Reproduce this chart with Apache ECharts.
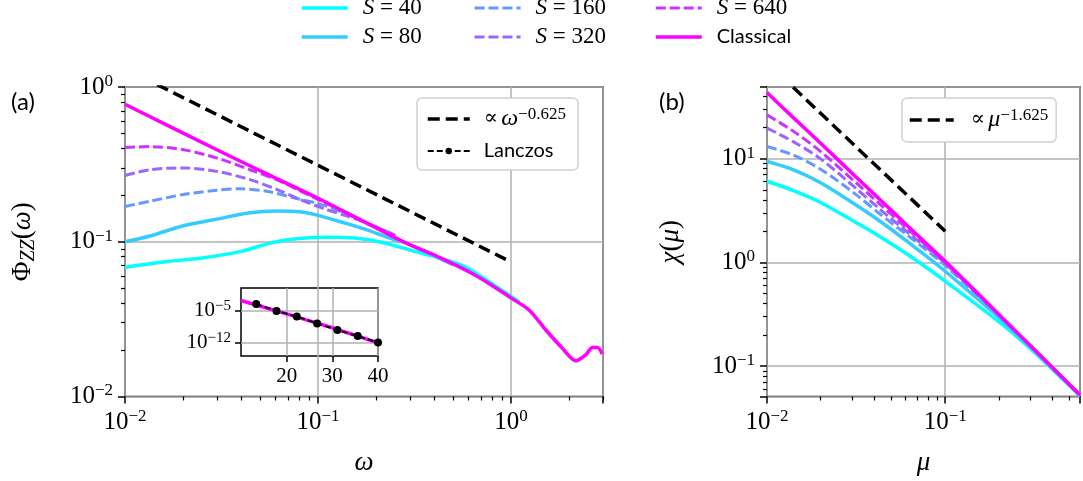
<!DOCTYPE html>
<html>
<head>
<meta charset="utf-8">
<script src="https://cdn.jsdelivr.net/npm/echarts@6/dist/echarts.min.js"></script>
<style>
  html, body { margin: 0; background: #fff; }
  #chart { width: 1083px; height: 481px; }
</style>
</head>
<body>
<div id="chart"></div>
<script>
// ---- panel (a): spectral function vs omega ----
const omega40 = [0.01, 0.0165, 0.0245, 0.0394, 0.0586, 0.0805, 0.110, 0.151, 0.198, 0.249, 0.313, 0.393, 0.562, 0.773, 1.104];
const phi40 = [0.0685, 0.0745, 0.0782, 0.0863, 0.0991, 0.105, 0.107, 0.106, 0.101, 0.0944, 0.0869, 0.0807, 0.0701, 0.055, 0.0408];
const omega80 = [0.01, 0.0135, 0.0201, 0.0299, 0.0445, 0.0611, 0.0805, 0.1, 0.138, 0.181, 0.249, 0.285, 0.398, 0.501];
const phi80 = [0.1, 0.109, 0.127, 0.14, 0.154, 0.158, 0.156, 0.148, 0.132, 0.119, 0.103, 0.0984, 0.0813, 0.0711];
const omega160 = [0.01, 0.0135, 0.0201, 0.0299, 0.0394, 0.0542, 0.0805, 0.1, 0.138, 0.173, 0.249];
const phi160 = [0.169, 0.183, 0.202, 0.215, 0.22, 0.212, 0.188, 0.177, 0.153, 0.135, 0.111];
const omega320 = [0.01, 0.0135, 0.0201, 0.0299, 0.0445, 0.0611, 0.0805, 0.110, 0.138, 0.173, 0.251];
const phi320 = [0.268, 0.292, 0.3, 0.285, 0.252, 0.218, 0.188, 0.162, 0.148, 0.134, 0.109];
const omega640 = [0.01, 0.0135, 0.0201, 0.0299, 0.0445, 0.0611, 0.0805, 0.1, 0.173, 0.251];
const phi640 = [0.406, 0.412, 0.393, 0.348, 0.292, 0.252, 0.214, 0.188, 0.135, 0.110];
const omegaCl = [0.01, 0.0316, 0.0631, 0.1, 0.173, 0.285, 0.431, 0.619, 0.773, 1.0, 1.245, 1.517, 1.849, 2.168, 2.443, 2.642, 2.805, 2.97];
const phiCl = [0.774, 0.38, 0.251, 0.191, 0.135, 0.0984, 0.0787, 0.0631, 0.0536, 0.0434, 0.0361, 0.0269, 0.0205, 0.0170, 0.0186, 0.0207, 0.0207, 0.0188];
const omegaPow = [0.01, 1];
const phiPow = [1.316, 0.074];

// inset of (a)
const inLanczosX = [13.33, 17.78, 22.22, 26.67, 31.11, 35.56, 40];
const inLanczosY = [3.6e-4, 1e-5, 5.4e-7, 1.7e-8, 5.8e-10, 2.6e-11, 1e-12];
const inClassX = [10, 15, 20, 25, 30, 35, 40];
const inClassY = [2.0e-3, 6.3e-5, 2.2e-6, 6.3e-8, 1.8e-9, 4.0e-11, 7.9e-13];
const inXTicks = [20, 30, 40];
const inYTicks = [1e-5, 1e-12];

// ---- panel (b): susceptibility vs mu ----
const mu = [0.01, 0.0141, 0.02, 0.0316, 0.0427, 0.0631, 0.1, 0.251, 0.571];
const chi40 = [6.05, 4.92, 3.78, 2.42, 1.79, 1.16, 0.661, 0.195, 0.0516];
const chi80 = [9.42, 7.80, 5.86, 3.57, 2.52, 1.53, 0.822, 0.207, 0.0522];
const chi160 = [13.1, 10.8, 7.91, 4.50, 2.96, 1.76, 0.933, 0.211, 0.0528];
const chi320 = [19.7, 14.5, 9.95, 5.16, 3.29, 1.88, 0.977, 0.214, 0.0528];
const chi640 = [26.4, 18.3, 11.7, 5.86, 3.69, 2.02, 1.0, 0.214, 0.0528];
const chiCl = [43.3, 24.7, 14.06, 6.65, 4.09, 2.16, 1.023, 0.214, 0.0528];
const muPow = [0.01, 0.1];
const chiPow = [84.3, 2.0];

// minor tick positions
const minorXa = [0.02, 0.03, 0.04, 0.05, 0.06, 0.07, 0.08, 0.09, 0.2, 0.3, 0.4, 0.5, 0.6, 0.7, 0.8, 0.9, 2, 3];
const minorYa = [0.02, 0.03, 0.04, 0.05, 0.06, 0.07, 0.08, 0.09, 0.2, 0.3, 0.4, 0.5, 0.6, 0.7, 0.8, 0.9];
const minorXb = [0.02, 0.03, 0.04, 0.05, 0.06, 0.07, 0.08, 0.09, 0.2, 0.3, 0.4, 0.5];
const minorYb = [0.06, 0.07, 0.08, 0.09, 0.2, 0.3, 0.4, 0.5, 0.6, 0.7, 0.8, 0.9, 2, 3, 4, 5, 6, 7, 8, 9, 20, 30, 40];

const names = ['S = 40', 'S = 80', 'S = 160', 'S = 320', 'S = 640', 'Classical'];
const colors = ['#00ffff', '#33ccff', '#6699ff', '#9966ff', '#cc33ff', '#ff00ff'];
const dashed = [false, false, true, true, true, false];

const SERIF = 'Liberation Serif';
const SANS = 'Lato';
const GRIDC = '#b0b0b0';

const pts = (xs, ys) => xs.map((x, i) => [x, ys[i]]);

const tickRich = {
  b: { fontFamily: SERIF, fontSize: 25, color: '#000', lineHeight: 28 },
  s: { fontFamily: SERIF, fontSize: 17, color: '#000', verticalAlign: 'top', lineHeight: 17 }
};
const smallRich = {
  b: { fontFamily: SERIF, fontSize: 21, color: '#000', lineHeight: 24 },
  s: { fontFamily: SERIF, fontSize: 15, color: '#000', verticalAlign: 'top', lineHeight: 15 }
};

function powLabel(v) {
  const e = Math.log10(v);
  const r = Math.round(e);
  if (Math.abs(e - r) > 1e-6) return '';
  return '{b|10}{s|' + (r < 0 ? '\u2212' + (-r) : r) + '}';
}

function majorAxis(grid, min, max, extra) {
  return Object.assign({
    type: 'log', gridIndex: grid, min: min, max: max,
    axisLine: { show: false },
    axisTick: { show: true, inside: false, length: 7, lineStyle: { color: '#000', width: 1.5 } },
    axisLabel: { formatter: powLabel, rich: tickRich, margin: 12 },
    splitLine: { show: true, lineStyle: { color: GRIDC, width: 1.5 } },
    minorTick: { show: false }
  }, extra || {});
}

function minorAxis(grid, min, max, ticks, pos) {
  return {
    type: 'log', gridIndex: grid, min: min, max: max, position: pos,
    axisLine: { show: false },
    axisTick: { show: true, inside: false, length: 4, customValues: ticks, lineStyle: { color: '#000', width: 1.2 } },
    axisLabel: { show: false },
    splitLine: { show: false }
  };
}

const nameRich = {
  r: { fontFamily: SERIF, fontSize: 27, color: '#000', lineHeight: 32 },
  i: { fontFamily: SERIF, fontSize: 27, fontStyle: 'italic', color: '#000', lineHeight: 32 },
  sub: { fontFamily: SERIF, fontSize: 20, fontStyle: 'italic', color: '#000', verticalAlign: 'bottom', lineHeight: 20 }
};

const xAxis = [
  majorAxis(0, 0.01, 3, { position: 'bottom', name: '{i|\u03c9}', nameLocation: 'middle', nameGap: 50, nameTextStyle: { rich: nameRich } }),
  majorAxis(1, 0.01, 0.571, { position: 'bottom', name: '{i|\u03bc}', nameLocation: 'middle', nameGap: 50, nameTextStyle: { rich: nameRich } }),
  {
    type: 'value', gridIndex: 2, min: 10, max: 40, position: 'bottom',
    axisLine: { show: false },
    axisTick: { show: true, inside: false, length: 6, customValues: inXTicks, lineStyle: { color: '#000', width: 1.5 } },
    axisLabel: { customValues: inXTicks, fontFamily: SERIF, fontSize: 21, color: '#000', margin: 10 },
    splitLine: { show: true, lineStyle: { color: GRIDC, width: 1.5 } }
  },
  minorAxis(0, 0.01, 3, minorXa, 'bottom'),
  minorAxis(1, 0.01, 0.571, minorXb, 'bottom')
];

const yAxis = [
  majorAxis(0, 0.01, 1, { position: 'left', name: '{r|\u03a6}{sub|ZZ}{r|(}{i|\u03c9}{r|)}', nameLocation: 'middle', nameGap: 86, nameRotate: 90, nameTextStyle: { rich: nameRich } }),
  majorAxis(1, 0.051, 49, { position: 'left', name: '{i|\u03c7}{r|(}{i|\u03bc}{r|)}', nameLocation: 'middle', nameGap: 80, nameRotate: 90, nameTextStyle: { rich: nameRich } }),
  {
    type: 'log', gridIndex: 2, min: 1e-15, max: 1.2, position: 'left',
    axisLine: { show: false },
    axisTick: { show: true, inside: false, length: 6, customValues: inYTicks, lineStyle: { color: '#000', width: 1.5 } },
    axisLabel: { customValues: inYTicks, formatter: powLabel, rich: smallRich, margin: 10 },
    splitLine: { show: true, lineStyle: { color: GRIDC, width: 1.5 } }
  },
  minorAxis(0, 0.01, 1, minorYa, 'left'),
  minorAxis(1, 0.051, 49, minorYb, 'left')
];

function curve(name, i, data, xi, yi) {
  return {
    name: name, type: 'line', xAxisIndex: xi, yAxisIndex: yi, data: data,
    symbol: 'none', smooth: 0.3, clip: true, silent: true,
    lineStyle: { color: colors[i], width: dashed[i] ? 3 : 3.5, type: dashed[i] ? [10, 4] : 'solid' },
    itemStyle: { color: colors[i] }
  };
}

const dataA = [pts(omega40, phi40), pts(omega80, phi80), pts(omega160, phi160), pts(omega320, phi320), pts(omega640, phi640), pts(omegaCl, phiCl)];
const dataB = [pts(mu, chi40), pts(mu, chi80), pts(mu, chi160), pts(mu, chi320), pts(mu, chi640), pts(mu, chiCl)];

const series = [];
names.forEach((n, i) => series.push(curve(n, i, dataA[i], 0, 0)));
series.push({
  name: 'powA', type: 'line', xAxisIndex: 0, yAxisIndex: 0, data: pts(omegaPow, phiPow),
  symbol: 'none', silent: true, clip: true,
  lineStyle: { color: '#000', width: 3.5, type: [12, 6] }, itemStyle: { color: '#000' }
});
names.forEach((n, i) => series.push(curve(n, i, dataB[i], 1, 1)));
series.push({
  name: 'powB', type: 'line', xAxisIndex: 1, yAxisIndex: 1, data: pts(muPow, chiPow),
  symbol: 'none', silent: true, clip: true,
  lineStyle: { color: '#000', width: 3.5, type: [12, 6] }, itemStyle: { color: '#000' }
});
series.push({
  name: 'Classical', type: 'line', xAxisIndex: 2, yAxisIndex: 2, data: pts(inClassX, inClassY),
  symbol: 'none', silent: true, clip: true,
  lineStyle: { color: '#ff00ff', width: 3.5 }, itemStyle: { color: '#ff00ff' }
});
series.push({
  name: 'Lanczos', type: 'line', xAxisIndex: 2, yAxisIndex: 2, data: pts(inLanczosX, inLanczosY),
  symbol: 'circle', symbolSize: 8, silent: true, clip: true,
  lineStyle: { color: '#000', width: 2, type: [6, 3] }, itemStyle: { color: '#000' }
});

const legRich = {
  i: { fontFamily: SERIF, fontStyle: 'italic', fontSize: 23, color: '#000' },
  n: { fontFamily: SERIF, fontSize: 23, color: '#000' },
  c: { fontFamily: SANS, fontSize: 20, color: '#000' },
  p: { fontFamily: 'DejaVu Serif', fontSize: 21, color: '#000' },
  m: { fontFamily: SERIF, fontStyle: 'italic', fontSize: 24, color: '#000' },
  s: { fontFamily: SERIF, fontSize: 17, color: '#000', verticalAlign: 'top', lineHeight: 15 }
};

function legFmt(name) {
  if (name === 'Classical') return '{c|Classical}';
  if (name === 'Lanczos') return '{c|Lanczos}';
  if (name === 'powA') return '{p|\u221d} {m|\u03c9}{s|\u22120.625}';
  if (name === 'powB') return '{p|\u221d} {m|\u03bc}{s|\u22121.625}';
  return '{i|S}{n| = ' + name.split('= ')[1] + '}';
}

const noSym = n => ({ name: n, itemStyle: { opacity: 0 } });

function topLegend(left, data) {
  return {
    orient: 'vertical', left: left, top: -4, padding: 0, itemGap: 5,
    itemWidth: 46, itemHeight: 14, data: data.map(noSym), selectedMode: false,
    lineStyle: { width: 'inherit' },
    formatter: legFmt, textStyle: { lineHeight: 24, padding: [0, 0, 0, 10], rich: legRich }
  };
}

const option = {
  animation: false,
  backgroundColor: '#fff',
  grid: [
    { left: 125, top: 87, width: 478, height: 311, show: true, borderColor: '#000', borderWidth: 1.5, backgroundColor: 'transparent' },
    { left: 767, top: 87, width: 316, height: 311, show: true, borderColor: '#000', borderWidth: 1.5, backgroundColor: 'transparent' },
    { left: 241, top: 288, width: 137, height: 68, show: true, borderColor: '#000', borderWidth: 1.5, backgroundColor: 'transparent' }
  ],
  legend: [
    topLegend(300, ['S = 40', 'S = 80']),
    topLegend(473, ['S = 160', 'S = 320']),
    topLegend(654, ['S = 640', 'Classical']),
    {
      orient: 'vertical', left: 417, top: 98, padding: [8, 12, 6, 9], itemGap: 6,
      itemWidth: 42, itemHeight: 8, data: [noSym('powA'), 'Lanczos'], selectedMode: false,
      lineStyle: { width: 'inherit' },
      backgroundColor: '#fff', borderColor: '#d0d0d0', borderWidth: 1.5, borderRadius: 5,
      formatter: legFmt, textStyle: { lineHeight: 26, padding: [0, 0, 0, 9], rich: legRich }
    },
    {
      orient: 'vertical', left: 902, top: 98, padding: [9, 8, 9, 6],
      itemWidth: 44, itemHeight: 8, data: [noSym('powB')], selectedMode: false,
      lineStyle: { width: 'inherit' },
      backgroundColor: '#fff', borderColor: '#d0d0d0', borderWidth: 1.5, borderRadius: 5,
      formatter: legFmt, textStyle: { lineHeight: 26, padding: [0, 0, 0, 12], rich: legRich }
    }
  ],
  xAxis: xAxis,
  yAxis: yAxis,
  series: series,
  graphic: [
    { type: 'text', left: 11, top: 90, style: { text: '(a)', font: '24px Lato', fill: '#000' } },
    { type: 'text', left: 659, top: 90, style: { text: '(b)', font: '24px Lato', fill: '#000' } }
  ]
};

const chart = echarts.init(document.getElementById('chart'), null, { renderer: 'canvas' });
chart.setOption(option);
</script>
</body>
</html>
